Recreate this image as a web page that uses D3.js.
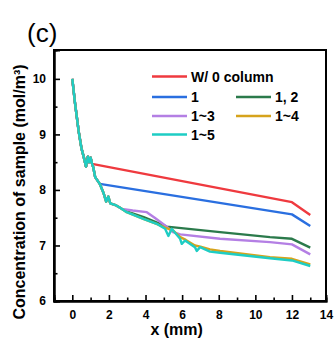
<!DOCTYPE html>
<html>
<head>
<meta charset="utf-8">
<script src="https://cdn.jsdelivr.net/npm/d3@7"></script>
<style>
  body { margin: 0; background: #fff; }
  svg { display: block; font-family: Arial, 'Liberation Sans', sans-serif; }
</style>
</head>
<body>
<div id="chart"></div>
<script>
// series data: [x (mm), concentration (mol/m^3)]
const headPts = [[0, 10.0], [0.15, 9.56], [0.35, 9.05], [0.5, 8.75], [0.62, 8.6], [0.75, 8.42],
  [0.85, 8.6], [0.92, 8.5], [1.0, 8.58], [1.08, 8.47]];
const redTail = [[12.0, 7.78], [13.0, 7.55]];
const stemPts = [[1.15, 8.4], [1.25, 8.23], [1.5, 8.11]];
const blueTail = [[12.0, 7.56], [13.0, 7.35]];
const lowerStem = [[1.7, 7.95], [1.85, 7.79], [1.97, 7.88], [2.07, 7.76], [2.4, 7.72], [2.7, 7.66]];
const greenTail = [[3.0, 7.61], [3.9, 7.51], [4.5, 7.43], [5.16, 7.34], [8.07, 7.24], [10.8, 7.15], [12.0, 7.12], [13.0, 6.96]];
const purpleTail = [[3.3, 7.63], [4.07, 7.6], [4.5, 7.5], [5.07, 7.36], [5.5, 7.24], [5.9, 7.2], [8.07, 7.12], [10.8, 7.06], [12.0, 7.02], [13.0, 6.84]];
const goldTail = [[2.97, 7.6], [3.88, 7.48], [4.6, 7.39], [5.07, 7.32], [5.5, 7.27], [5.9, 7.15], [6.2, 7.1], [6.7, 7.0], [7.0, 6.98], [7.52, 6.93], [8.07, 6.9], [10.8, 6.79], [12.0, 6.76], [13.0, 6.66]];
const cyanTail = [[2.97, 7.6], [3.88, 7.48], [4.61, 7.39], [5.07, 7.3], [5.25, 7.17], [5.43, 7.3], [5.89, 7.12], [5.98, 7.03], [6.16, 7.09], [6.7, 6.97], [6.8, 6.9], [6.98, 6.97], [7.52, 6.89], [8.07, 6.87], [10.8, 6.77], [12.0, 6.73], [13.0, 6.63]];

const seriesNames = ['W/ 0 column', '1', '1, 2', '1~3', '1~4', '1~5'];
const seriesColors = ['#ef3a3f', '#2a6fe0', '#2b7a4b', '#b47fe4', '#d6a31c', '#1ecdc4'];

const xTicks = [0, 2, 4, 6, 8, 10, 12];
const xMinor = [-1, 1, 3, 5, 7, 9, 11, 13];
const yTicks = [6, 7, 8, 9, 10];
const yMinor = [6.5, 7.5, 8.5, 9.5];

const seriesData = [
  headPts.concat(redTail),
  headPts.concat(stemPts, blueTail),
  headPts.concat(stemPts, lowerStem, greenTail),
  headPts.concat(stemPts, lowerStem, purpleTail),
  headPts.concat(stemPts, lowerStem, goldTail),
  headPts.concat(stemPts, lowerStem, cyanTail)
];

const W = 334, H = 341;
const margin = { top: 50, right: 8, bottom: 40, left: 54 };
const iw = W - margin.left - margin.right;
const ih = H - margin.top - margin.bottom;

const svg = d3.select('#chart').append('svg')
  .attr('width', W)
  .attr('height', H);

const g = svg.append('g').attr('transform', `translate(${margin.left},${margin.top})`);

const x = d3.scaleLinear().domain([-1, 13.86]).range([0, iw]);
const y = d3.scaleLinear().domain([6, 10.52]).range([ih, 0]);

// lines
const line = d3.line().x(d => x(d[0])).y(d => y(d[1]));
g.append('g')
  .selectAll('path')
  .data(seriesData)
  .join('path')
  .attr('d', line)
  .attr('fill', 'none')
  .attr('stroke', (d, i) => seriesColors[i])
  .attr('stroke-width', 2.4)
  .attr('stroke-linejoin', 'round');

// frame
g.append('rect')
  .attr('width', iw)
  .attr('height', ih)
  .attr('fill', 'none')
  .attr('stroke', '#000')
  .attr('stroke-width', 2);

// axes, ticks pointing inward
g.append('g')
  .attr('transform', `translate(0,${ih})`)
  .call(d3.axisBottom(x).tickValues(xTicks).tickSize(-6).tickPadding(9).tickFormat(d3.format('d')));
g.append('g')
  .attr('transform', `translate(0,${ih})`)
  .call(d3.axisBottom(x).tickValues(xMinor).tickSize(-3.5).tickFormat(''));
g.append('g')
  .call(d3.axisLeft(y).tickValues(yTicks).tickSize(-6).tickPadding(8).tickFormat(d3.format('d')));
g.append('g')
  .call(d3.axisLeft(y).tickValues(yMinor).tickSize(-3.5).tickFormat(''));

g.selectAll('.domain').attr('stroke-width', 2);
g.selectAll('.tick line').attr('stroke-width', 1.6);
g.selectAll('.tick text')
  .attr('font-size', 12)
  .attr('font-weight', 'bold')
  .attr('font-family', "Arial, 'Liberation Sans', sans-serif")
  .attr('fill', '#000');

// the 14 label sits just past the frame edge
svg.append('text')
  .attr('x', 326.5)
  .attr('y', margin.top + ih + 9)
  .attr('dy', '0.71em')
  .attr('text-anchor', 'middle')
  .attr('font-size', 12)
  .attr('font-weight', 'bold')
  .text('14');

// axis titles
svg.append('text')
  .attr('x', margin.left + x(5.7))
  .attr('y', 335)
  .attr('text-anchor', 'middle')
  .attr('font-size', 16)
  .attr('font-weight', 'bold')
  .text('x (mm)');

svg.append('text')
  .attr('transform', 'translate(25,192) rotate(-90)')
  .attr('text-anchor', 'middle')
  .attr('font-size', 16)
  .attr('font-weight', 'bold')
  .text('Concentration of sample (mol/m³)');

svg.append('text')
  .attr('x', 27)
  .attr('y', 42)
  .attr('font-size', 26)
  .text('(c)');

// legend
const legendPos = [[152, 76.5], [152, 97], [236, 97], [152, 116], [236, 116], [152, 134.5]];
const legend = svg.append('g')
  .selectAll('g')
  .data(seriesNames)
  .join('g')
  .attr('transform', (d, i) => `translate(${legendPos[i][0]},${legendPos[i][1]})`);
legend.append('line')
  .attr('x1', 0).attr('x2', 35)
  .attr('stroke', (d, i) => seriesColors[i])
  .attr('stroke-width', 2.6);
legend.append('text')
  .attr('x', 39)
  .attr('dy', '0.36em')
  .attr('font-size', 14)
  .attr('font-weight', 'bold')
  .text(d => d);
</script>
</body>
</html>
